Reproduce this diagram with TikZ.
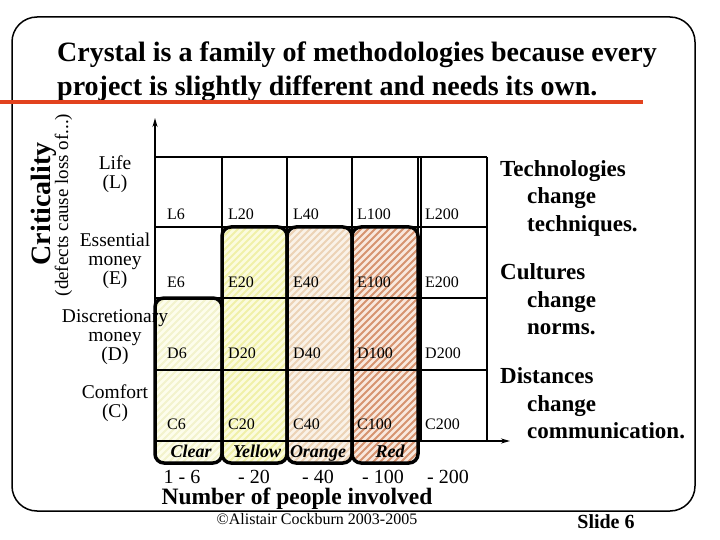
\documentclass[tikz,border=0pt]{standalone}
\usepackage{fontspec}
\setmainfont{Liberation Serif}
\usetikzlibrary{arrows.meta}
\definecolor{redline}{RGB}{226,66,30}
\definecolor{clearbg}{RGB}{253,253,236}
\definecolor{clearln}{RGB}{243,243,205}
\definecolor{yellowbg}{RGB}{251,251,222}
\definecolor{yellowln}{RGB}{240,240,168}
\definecolor{orangebg}{RGB}{250,242,232}
\definecolor{orangeln}{RGB}{236,211,182}
\definecolor{redbg}{RGB}{248,232,222}
\definecolor{redln}{RGB}{214,148,112}
\begin{document}
\begin{tikzpicture}[x=1pt,y=-1pt,
  title/.style={font=\fontsize{28}{28}\selectfont\bfseries, anchor=base west, inner sep=0},
  gridline/.style={line width=1.4pt},
  axisline/.style={line width=2pt},
  crystalbox/.style={line width=3.5pt, rounded corners=9pt},
  cell/.style={font=\fontsize{16}{16}\selectfont, anchor=base west, inner sep=0},
  rowlbl/.style={font=\fontsize{19.5}{19.5}\selectfont, anchor=base, inner sep=0},
  colname/.style={font=\fontsize{18}{18}\selectfont\bfseries\itshape, anchor=base, inner sep=0},
  colnum/.style={font=\fontsize{20}{20}\selectfont, anchor=base, inner sep=0},
  sidetxt/.style={font=\fontsize{23}{23}\selectfont\bfseries, anchor=base west, inner sep=0},
  hatchln/.style={line width=2pt}]
\useasboundingbox (0,0) rectangle (720,540);
\fill[white] (0,0) rectangle (720,540);
% slide frame
\draw[line width=1.5pt, rounded corners=25pt] (12,17) rectangle (695,511);
% title
\node[title] (t1) at (57,62) {Crystal is a family of methodologies because every};
\node[title] (t2) at (57,96) {project is slightly different and needs its own.};
\coordinate (rlA) at (0,102);
\coordinate (rlB) at (643,102);
\draw[redline, line width=4pt] (rlA) -- (rlB);
% crystal column fills with hatching
\begin{scope}
  \clip[rounded corners=9pt] (155,298) rectangle (222,463);
  \fill[clearbg] (155,298) rectangle (222,463);
  \foreach \k in {-260,-253,...,80} \draw[hatchln, clearln] (155+\k,463) -- ++(300,-300);
\end{scope}
\begin{scope}
  \clip[rounded corners=9pt] (222,227) rectangle (287,463);
  \fill[yellowbg] (222,227) rectangle (287,463);
  \foreach \k in {-260,-253,...,80} \draw[hatchln, yellowln] (222+\k,463) -- ++(300,-300);
\end{scope}
\begin{scope}
  \clip[rounded corners=9pt] (287,227) rectangle (352,463);
  \fill[orangebg] (287,227) rectangle (352,463);
  \foreach \k in {-260,-253,...,80} \draw[hatchln, orangeln] (287+\k,463) -- ++(300,-300);
\end{scope}
\begin{scope}
  \clip[rounded corners=9pt] (352,227) rectangle (418,463);
  \fill[redbg] (352,227) rectangle (418,463);
  \foreach \k in {-260,-253,...,80} \draw[hatchln, redln] (352+\k,463) -- ++(300,-300);
\end{scope}
% grid
\draw[gridline] (155,157) -- (487,157);
\foreach \yy in {227,298,370,441} \draw[gridline] (155,\yy) -- (487,\yy);
\foreach \xx in {222,287,352,418,421,487} \draw[gridline] (\xx,157) -- (\xx,441);
% cell labels
\foreach \r/\yy in {L/220,E/287,D/358,C/429}
  \foreach \n/\xx in {6/167,20/228,40/293,100/357,200/425}
    \node[cell] (\r\n) at (\xx,\yy) {\r\n};
% crystal column borders
\draw[crystalbox] (155,298) rectangle (222,463);
\draw[crystalbox] (222,227) rectangle (287,463);
\draw[crystalbox] (287,227) rectangle (352,463);
\draw[crystalbox] (352,227) rectangle (418,463);
% axes
\coordinate (orig) at (155,441);
\coordinate (ytop) at (155,118);
\coordinate (xend) at (510,441);
\draw[axisline,-{Stealth[length=9pt,width=5pt]}] (orig) -- (ytop);
\draw[axisline,-{Stealth[length=9pt,width=5pt]}] (orig) -- (xend);
% axis titles
\node[font=\fontsize{28}{28}\selectfont\bfseries, rotate=90, anchor=base, inner sep=0] (crit) at (50,204) {Criticality};
\node[font=\fontsize{19}{19}\selectfont, rotate=90, anchor=base, inner sep=0] (defects) at (68,205) {(defects cause loss of...)};
% row labels
\node[rowlbl] (lifeA) at (115,170) {Life};
\node[rowlbl] (lifeB) at (115,189) {(L)};
\node[rowlbl] (essA) at (115,246) {Essential};
\node[rowlbl] (essB) at (115,265) {money};
\node[rowlbl] (essC) at (115,284) {(E)};
\node[rowlbl] (disA) at (115,322) {Discretionary};
\node[rowlbl] (disB) at (115,341) {money};
\node[rowlbl] (disC) at (115,360) {(D)};
\node[rowlbl] (comA) at (115,398) {Comfort};
\node[rowlbl] (comB) at (115,417) {(C)};
% column names
\node[colname] (clear) at (191,457) {Clear};
\node[colname] (yellow) at (257,457) {Yellow};
\node[colname] (orange) at (318,457) {Orange};
\node[colname] (red) at (390,457) {Red};
\node[colnum] (n6) at (182,483) {1 - 6};
\node[colnum] (n20) at (254,483) {- 20};
\node[colnum] (n40) at (318,483) {- 40};
\node[colnum] (n100) at (383,483) {- 100};
\node[colnum] (n200) at (448,483) {- 200};
\node[font=\fontsize{23.5}{23.5}\selectfont\bfseries, anchor=base, inner sep=0] (people) at (297,504) {Number of people involved};
% side text
\node[sidetxt] (s1) at (500,177) {Technologies};
\node[sidetxt] (s2) at (527,204) {change};
\node[sidetxt] (s3) at (527,231) {techniques.};
\node[sidetxt] (s4) at (500,279) {Cultures};
\node[sidetxt] (s5) at (527,307) {change};
\node[sidetxt] (s6) at (527,334) {norms.};
\node[sidetxt] (s7) at (500,383) {Distances};
\node[sidetxt] (s8) at (527,411) {change};
\node[sidetxt] (s9) at (527,438) {communication.};
% footer
\node[font=\fontsize{16}{16}\selectfont, anchor=base, inner sep=0] (copy) at (317,524) {©Alistair Cockburn 2003-2005};
\node[font=\fontsize{20}{20}\selectfont\bfseries, anchor=base, inner sep=0] (slide) at (606,528) {Slide 6};
\end{tikzpicture}
\end{document}
